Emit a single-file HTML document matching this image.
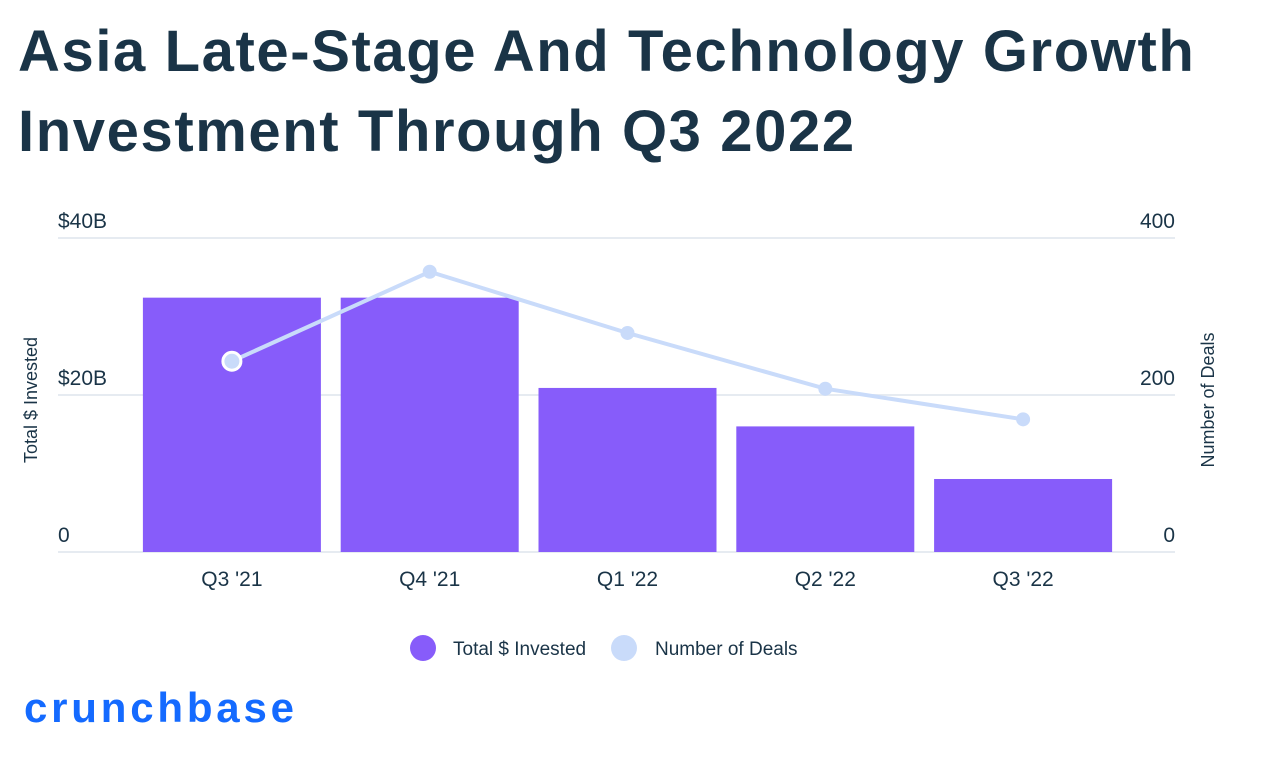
<!DOCTYPE html>
<html><head><meta charset="utf-8"><style>
body{margin:0;background:#fff;width:1279px;height:770px;overflow:hidden;font-family:"Liberation Sans",sans-serif}
.title{position:absolute;left:18px;top:12px;font-size:58px;font-weight:bold;color:#1a3447;line-height:80px;letter-spacing:1.6px}
.logo{position:absolute;left:24px;top:684px;font-size:42px;font-weight:bold;color:#146aff;letter-spacing:3.8px}
</style></head><body>
<div class="title">Asia Late-Stage And Technology Growth<br>Investment Through Q3 2022</div>
<svg id="chart" width="1279" height="770" style="position:absolute;left:0;top:0"></svg>
<div class="logo">crunchbase</div>
<script>
const categories=["Q3 '21","Q4 '21","Q1 '22","Q2 '22","Q3 '22"];
const invested=[32.4,32.4,20.9,16.0,9.3];
const deals=[243,357,279,208,169];
const leftTicks=[0,20,40];
const leftTickLabels=["0","$20B","$40B"];
const rightTicks=[0,200,400];
const rightTickLabels=["0","200","400"];

const NS="http://www.w3.org/2000/svg";
const svg=document.getElementById('chart');
const x0=133,band=197.8,y0=552,yTop=238;
const yL=v=>y0-(v/40)*(y0-yTop);
const yR=v=>y0-(v/400)*(y0-yTop);
const xC=i=>x0+band*(i+0.5);
function mk(t,a,txt){const e=document.createElementNS(NS,t);for(const k in a)e.setAttribute(k,a[k]);if(txt!=null)e.textContent=txt;svg.appendChild(e);return e;}
const font='"Liberation Sans",sans-serif';
leftTicks.forEach((v,i)=>{
  const g=mk('line',{x1:58,x2:1175,y1:yL(v),y2:yL(v),stroke:'#e6ebf1','stroke-width':2});
  
  
  const t=mk('text',{x:58,y:yL(v)-10,'font-size':21,fill:'#1a3447','font-family':font},leftTickLabels[i]);
  
  
});
rightTicks.forEach((v,i)=>{
  const t=mk('text',{x:1175,y:yR(v)-10,'font-size':21,fill:'#1a3447','font-family':font,'text-anchor':'end'},rightTickLabels[i]);
  
  
});
invested.forEach((v,i)=>{
  const r=mk('rect',{x:xC(i)-89,width:178,y:yL(v),height:y0-yL(v),fill:'#875cfa'});
  
  
  const t=mk('text',{x:xC(i),y:586,'font-size':21,fill:'#1a3447','font-family':font,'text-anchor':'middle'},categories[i]);
  
  
});
const pl=mk('polyline',{points:deals.map((v,i)=>xC(i)+','+yR(v)).join(' '),fill:'none',stroke:'#c9dbfa','stroke-width':4});


deals.forEach((v,i)=>{
  const c=mk('circle',{cx:xC(i),cy:yR(v),r:i==0?9:7,fill:'#c9dbfa',stroke:i==0?'#fff':'none','stroke-width':3});
  
  
});
const yt=mk('text',{transform:'translate(37,400) rotate(-90)','font-size':18,fill:'#1a3447','font-family':font,'text-anchor':'middle'},'Total $ Invested');


const yt2=mk('text',{transform:'translate(1214,400) rotate(-90)','font-size':18,fill:'#1a3447','font-family':font,'text-anchor':'middle'},'Number of Deals');


const l1=mk('circle',{cx:423,cy:648,r:13,fill:'#875cfa'});


const lt1=mk('text',{x:453,y:655,'font-size':19,fill:'#1a3447','font-family':font},'Total $ Invested');


const l2=mk('circle',{cx:624,cy:648,r:13,fill:'#c9dbfa'});


const lt2=mk('text',{x:655,y:655,'font-size':19,fill:'#1a3447','font-family':font},'Number of Deals');


</script>
</body></html>
